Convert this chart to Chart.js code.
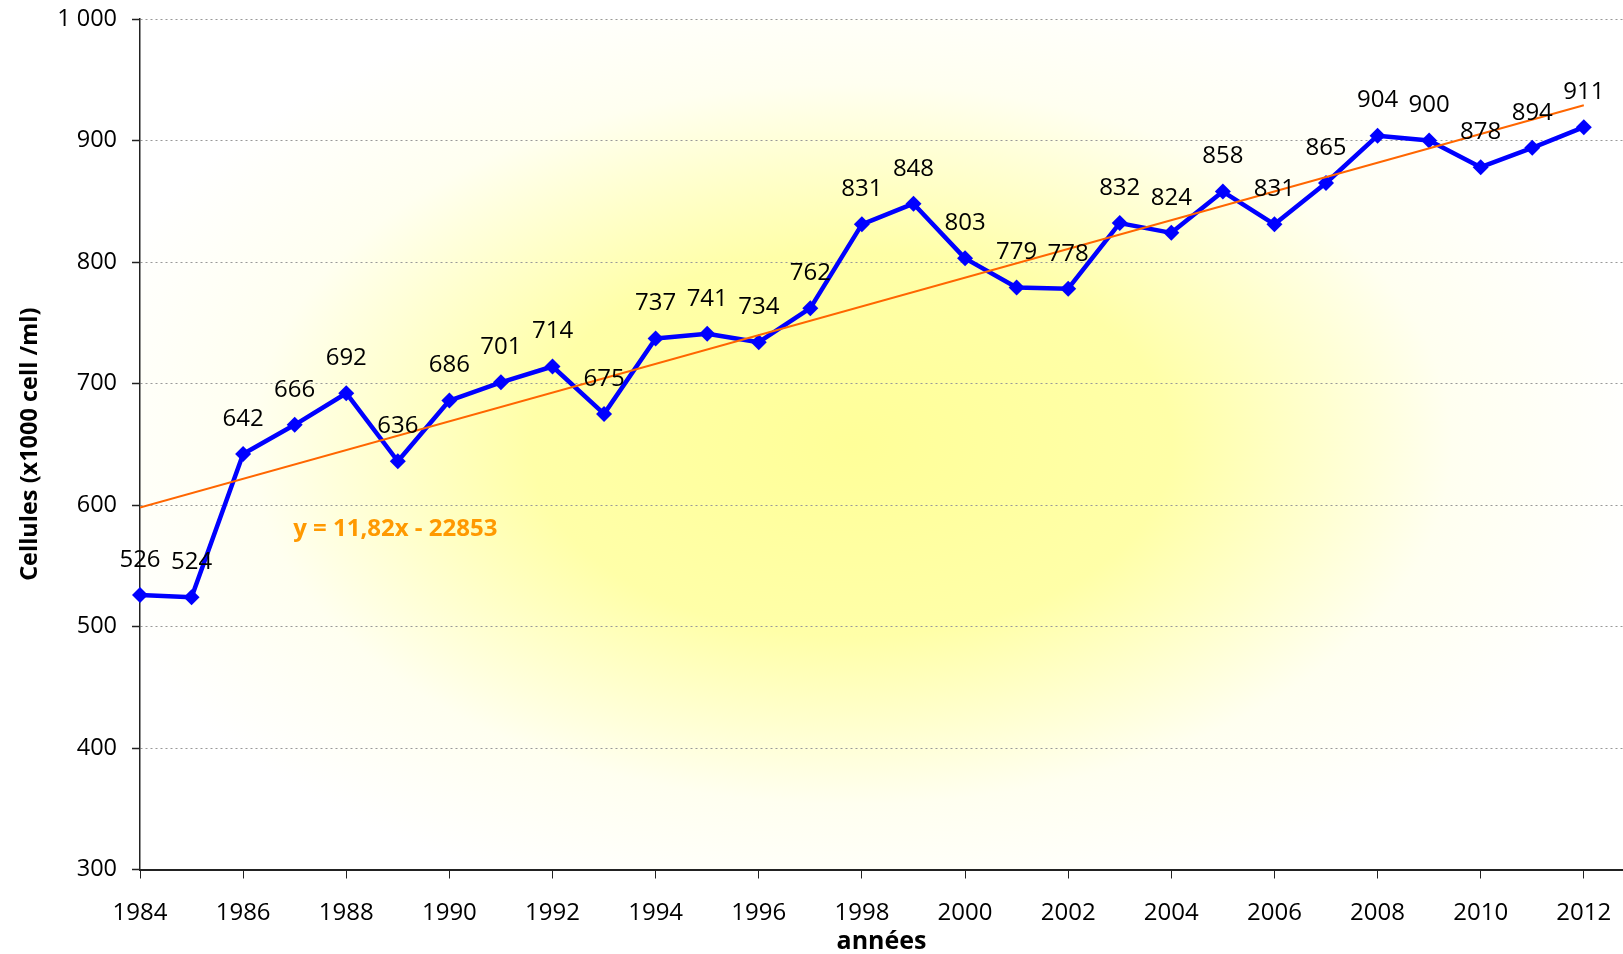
<!DOCTYPE html>
<html>
<head>
<meta charset="utf-8">
<script src="https://cdn.jsdelivr.net/npm/chart.js@4/dist/chart.umd.min.js"></script>
<style>
  html, body { margin: 0; padding: 0; background: #ffffff; }
  #wrap { width: 1623px; height: 954px; position: relative; }
</style>
</head>
<body>
<div id="wrap"><canvas id="c" width="1623" height="954"></canvas></div>
<script>
// ---- data ----
const years = [1984,1985,1986,1987,1988,1989,1990,1991,1992,1993,1994,1995,1996,1997,1998,1999,2000,2001,2002,2003,2004,2005,2006,2007,2008,2009,2010,2011,2012];
const cellValues = [526,524,642,666,692,636,686,701,714,675,737,741,734,762,831,848,803,779,778,832,824,858,831,865,904,900,878,894,911];
const trendYears = [1984, 2012];
const trendValues = [598, 929];
const trendLabel = 'y = 11,82x - 22853';
const xTickYears = [1984,1986,1988,1990,1992,1994,1996,1998,2000,2002,2004,2006,2008,2010,2012];
const yTickValues = [300,400,500,600,700,800,900,1000];
const yTitle = 'Cellules (x1000 cell /ml)';
const xTitle = 'années';

const FONT = '"Open Sans", "DejaVu Sans", sans-serif';

const bgPlugin = {
  id: 'bgGrad',
  beforeDraw(chart) {
    const {ctx, chartArea: a} = chart;
    const cx = a.left + (a.right - a.left) * 0.48;
    const cy = a.top + (a.bottom - a.top) * 0.5;
    const rx = 800, ry = 480;
    ctx.save();
    ctx.beginPath();
    ctx.rect(a.left, a.top, a.right - a.left, a.bottom - a.top);
    ctx.clip();
    ctx.translate(cx, cy);
    ctx.scale(rx / ry, 1);
    const g = ctx.createRadialGradient(0, 0, 0, 0, 0, ry);
    g.addColorStop(0, '#ffff99');
    g.addColorStop(0.4, '#ffffa8');
    g.addColorStop(0.75, '#fffff0');
    g.addColorStop(1, '#ffffff');
    ctx.fillStyle = g;
    ctx.fillRect(-ry * 3, -ry * 3, ry * 6, ry * 6);
    ctx.restore();
  }
};

const labelPlugin = {
  id: 'valueLabels',
  afterDatasetsDraw(chart) {
    const {ctx} = chart;
    const meta = chart.getDatasetMeta(1);
    ctx.save();
    ctx.font = '24px ' + FONT;
    ctx.fillStyle = '#000000';
    ctx.textAlign = 'center';
    ctx.textBaseline = 'middle';
    meta.data.forEach((pt, i) => {
      ctx.fillText(String(cellValues[i]), pt.x, pt.y - 35);
    });
    // trend equation
    const xs = chart.scales.x, ys = chart.scales.y;
    ctx.font = 'bold 24px ' + FONT;
    ctx.fillStyle = '#ff9900';
    ctx.textAlign = 'left';
    ctx.fillText(trendLabel, xs.getPixelForValue(1986.97), ys.getPixelForValue(580));
    ctx.restore();
  }
};

new Chart(document.getElementById('c'), {
  type: 'line',
  data: {
    datasets: [
      {
        label: 'trend',
        data: trendYears.map((y, i) => ({x: y, y: trendValues[i]})),
        borderColor: '#ff6600',
        borderWidth: 2,
        pointRadius: 0,
        order: 0
      },
      {
        label: 'cells',
        data: years.map((y, i) => ({x: y, y: cellValues[i]})),
        borderColor: '#0000ff',
        backgroundColor: '#0000ff',
        borderWidth: 4.5,
        pointStyle: 'rectRot',
        pointRadius: 8,
        pointBorderWidth: 0,
        borderJoinStyle: 'round',
        clip: false,
        order: 1
      }
    ]
  },
  options: {
    responsive: false,
    animation: false,
    layout: { autoPadding: false, padding: { top: 19, left: 0, right: 0, bottom: 0 } },
    plugins: { legend: { display: false }, tooltip: { enabled: false } },
    scales: {
      x: {
        type: 'linear',
        min: 1984,
        max: 2012.76,
        afterBuildTicks(scale) { scale.ticks = xTickYears.map(v => ({value: v})); },
        afterFit(scale) { scale.height = 84.5; scale.paddingRight = 0; scale.paddingLeft = 0; },
        ticks: {
          font: { family: FONT, size: 24 },
          color: '#000000',
          padding: 20,
          maxRotation: 0,
          autoSkip: false,
          callback: v => String(v)
        },
        grid: {
          drawOnChartArea: false,
          drawTicks: true,
          tickLength: 9,
          tickColor: '#222222',
          tickWidth: 1
        },
        border: { display: true, color: '#222222', width: 2 },
        title: {
          display: true,
          text: xTitle,
          font: { family: FONT, size: 25, weight: 'bold', lineHeight: 1.0 },
          color: '#000000',
          padding: { top: 0, bottom: 0 }
        }
      },
      y: {
        min: 300,
        max: 1000,
        afterBuildTicks(scale) { scale.ticks = yTickValues.map(v => ({value: v})); },
        afterFit(scale) { scale.width = 140; scale.paddingTop = 0; scale.paddingBottom = 0; },
        ticks: {
          font: { family: FONT, size: 23.5 },
          color: '#000000',
          padding: 15,
          callback: v => v >= 1000 ? '1 000' : String(v)
        },
        grid: {
          color: '#999999',
          lineWidth: 1,
          drawTicks: true,
          tickLength: 8,
          tickColor: '#222222',
          tickWidth: 1.5
        },
        border: { display: true, color: '#222222', width: 1.5, dash: [2, 3] },
        title: {
          display: true,
          text: yTitle,
          font: { family: FONT, size: 23.5, weight: 'bold' },
          color: '#000000',
          padding: { top: 16, bottom: 0 }
        }
      }
    }
  },
  plugins: [bgPlugin, labelPlugin]
});
</script>
</body>
</html>
